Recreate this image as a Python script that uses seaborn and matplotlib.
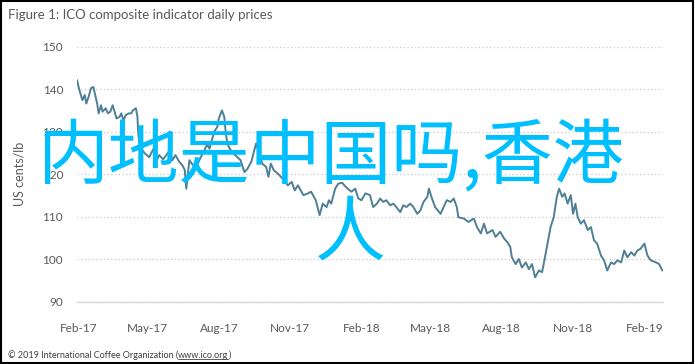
#ICO composite indicator, daily prices Feb 2017 - Feb 2019, with the cyan caption on top

import numpy as np
import pandas as pd
import matplotlib
matplotlib.use('Agg')
import matplotlib.pyplot as plt
import matplotlib.dates as mdates
from matplotlib.patches import Rectangle
from matplotlib.lines import Line2D
import seaborn as sns

#values (US cents/lb)
dates = ['2017-01-30', '2017-02-02', '2017-02-06', '2017-02-09', '2017-02-11', '2017-02-14',
         '2017-02-17', '2017-02-20', '2017-02-22', '2017-02-25', '2017-02-27', '2017-03-02',
         '2017-03-04', '2017-03-08', '2017-03-11', '2017-03-14', '2017-03-17', '2017-03-19',
         '2017-03-22', '2017-03-26', '2017-03-28', '2017-03-31', '2017-04-03', '2017-04-07',
         '2017-04-10', '2017-04-12', '2017-04-16', '2017-04-18', '2017-04-19', '2017-04-21',
         '2017-04-27', '2017-05-03', '2017-05-10', '2017-05-13', '2017-05-16', '2017-05-21',
         '2017-05-27', '2017-05-29', '2017-06-02', '2017-06-06', '2017-06-11', '2017-06-15',
         '2017-06-18', '2017-06-20', '2017-06-24', '2017-06-27', '2017-07-03', '2017-07-06',
         '2017-07-11', '2017-07-17', '2017-07-20', '2017-07-26', '2017-07-30', '2017-08-01',
         '2017-08-05', '2017-08-08', '2017-08-10', '2017-08-12', '2017-08-15', '2017-08-22',
         '2017-08-29', '2017-09-03', '2017-09-07', '2017-09-12', '2017-09-18', '2017-09-22',
         '2017-09-26', '2017-10-01', '2017-10-04', '2017-10-07', '2017-10-11', '2017-10-17',
         '2017-10-22', '2017-10-29', '2017-11-03', '2017-11-07', '2017-11-11', '2017-11-18',
         '2017-11-24', '2017-11-28', '2017-12-04', '2017-12-09', '2017-12-13', '2017-12-18',
         '2017-12-21', '2017-12-24', '2017-12-29', '2018-01-02', '2018-01-07', '2018-01-12',
         '2018-01-19', '2018-01-24', '2018-01-28', '2018-02-01', '2018-02-06', '2018-02-12',
         '2018-02-16', '2018-02-21', '2018-02-25', '2018-03-01', '2018-03-05', '2018-03-10',
         '2018-03-14', '2018-03-18', '2018-03-23', '2018-03-27', '2018-03-31', '2018-04-05',
         '2018-04-09', '2018-04-14', '2018-04-18', '2018-04-22', '2018-04-27', '2018-04-29',
         '2018-05-03', '2018-05-07', '2018-05-14', '2018-05-18', '2018-05-22', '2018-05-27',
         '2018-05-31', '2018-06-04', '2018-06-06', '2018-06-13', '2018-06-19', '2018-06-26',
         '2018-06-30', '2018-07-05', '2018-07-09', '2018-07-13', '2018-07-20', '2018-07-24',
         '2018-07-30', '2018-08-04', '2018-08-08', '2018-08-12', '2018-08-14', '2018-08-19',
         '2018-08-23', '2018-08-27', '2018-09-01', '2018-09-05', '2018-09-09', '2018-09-13',
         '2018-09-18', '2018-09-22', '2018-09-25', '2018-09-29', '2018-10-03', '2018-10-07',
         '2018-10-11', '2018-10-14', '2018-10-18', '2018-10-21', '2018-10-25', '2018-10-29',
         '2018-11-01', '2018-11-04', '2018-11-07', '2018-11-11', '2018-11-15', '2018-11-20',
         '2018-11-24', '2018-11-28', '2018-12-02', '2018-12-07', '2018-12-11', '2018-12-15',
         '2018-12-20', '2018-12-24', '2018-12-28', '2019-01-02', '2019-01-06', '2019-01-10',
         '2019-01-15', '2019-01-19', '2019-01-23', '2019-01-27', '2019-02-01', '2019-02-05',
         '2019-02-09', '2019-02-16', '2019-02-20', '2019-02-24']
prices = [142.1, 139.8, 137.4, 138.6, 136.6, 138.2,
          140.2, 140.5, 139.0, 136.6, 134.3, 136.2,
          134.7, 135.5, 134.3, 134.7, 136.2, 135.0,
          133.1, 133.5, 134.3, 132.7, 133.9, 134.3,
          134.3, 135.0, 135.5, 133.5, 129.6, 126.4,
          125.0, 124.0, 126.4, 123.3, 124.5, 123.5,
          124.9, 125.6, 123.3, 124.5, 122.9, 122.1,
          121.0, 116.6, 123.3, 122.5, 121.5, 123.0,
          124.8, 127.0, 126.0, 130.0, 131.1, 133.1,
          135.0, 133.5, 129.6, 127.2, 126.0, 124.5,
          123.3, 120.5, 121.3, 123.0, 127.2, 124.9,
          122.5, 121.7, 119.4, 122.5, 120.9, 120.0,
          119.0, 117.4, 118.2, 116.2, 117.4, 115.1,
          115.5, 115.9, 113.9, 110.4, 113.1, 112.3,
          113.9, 113.1, 116.6, 117.8, 118.0, 117.0,
          115.9, 116.6, 114.3, 113.9, 115.5, 115.1,
          112.3, 113.1, 114.3, 113.5, 113.9, 112.7,
          113.1, 112.3, 111.1, 112.7, 112.3, 113.1,
          112.3, 110.7, 111.5, 113.5, 114.7, 116.6,
          114.3, 112.3, 110.7, 112.3, 113.9, 113.5,
          114.3, 112.3, 109.9, 109.6, 108.8, 109.6,
          107.6, 106.1, 108.4, 106.1, 106.9, 105.3,
          106.5, 104.9, 104.1, 102.9, 100.5, 98.9,
          100.1, 98.1, 99.3, 97.7, 98.9, 95.8,
          97.4, 97.0, 99.8, 103.7, 107.6, 109.9,
          114.7, 116.6, 114.7, 115.5, 113.1, 115.1,
          110.7, 113.1, 109.9, 108.4, 109.2, 106.9,
          107.6, 104.5, 103.7, 100.9, 99.8, 97.4,
          99.3, 98.9, 99.8, 99.3, 102.1, 100.5,
          101.7, 100.9, 102.1, 102.5, 103.7, 100.9,
          99.8, 99.3, 98.9, 97.4]

tick_dates = ['2017-02-01', '2017-05-01', '2017-08-01', '2017-11-01', '2018-02-01',
              '2018-05-01', '2018-08-01', '2018-11-01', '2019-02-01']
y_ticks = [90, 100, 110, 120, 130, 140, 150]

title = 'Figure 1: ICO composite indicator daily prices'
y_label = 'US cents/lb'
footer_start = '\u00a9 2019 International Coffee Organization ('
footer_link = 'www.ico.org'
footer_end = ')'
overlay_line1 = '内地是中国吗,香港'
overlay_line2 = '人'

df = pd.DataFrame({'date': pd.to_datetime(dates), 'price': prices})

sns.set_style('white')
plt.rcParams['font.family'] = ['Lato', 'DejaVu Sans']

grey = '#595959'
fig = plt.figure(figsize=(6.95, 3.64), dpi=100)
ax = fig.add_axes([77 / 695, 1 - 302 / 364, (663 - 77) / 695, (302 - 46.5) / 364])

sns.lineplot(data=df, x='date', y='price', ax=ax, color='#4f7f94', linewidth=1.4)

ax.set_ylim(90, 150)
ax.set_yticks(y_ticks)
ax.set_xlim(pd.Timestamp('2017-01-30'), pd.Timestamp('2019-02-25'))
ax.set_xticks(pd.to_datetime(tick_dates))
ax.xaxis.set_major_formatter(mdates.DateFormatter('%b-%y'))

ax.set_xlabel('')
ax.set_ylabel(y_label, fontsize=9, color=grey, labelpad=12)
ax.tick_params(axis='both', length=0, labelsize=8.5, labelcolor=grey)
ax.tick_params(axis='x', pad=15)
ax.tick_params(axis='y', pad=10)

#dotted grid, solid light axis at the bottom
ax.grid(axis='y', color='#c8c8c8', linestyle=(0, (1, 2)), linewidth=0.9)
ax.grid(axis='x', visible=False)
for side in ['top', 'right', 'left']:
    ax.spines[side].set_visible(False)
ax.spines['bottom'].set_color('#d9d9d9')
ax.spines['bottom'].set_linewidth(1)

fig.text(8 / 695, 1 - 15 / 364, title, fontsize=9.5, color=grey, va='center', ha='left')

#footer with the underlined link
W, H = fig.get_size_inches() * fig.dpi
fy = 1 - 355 / 364
t1 = fig.text(8 / W, fy, footer_start, fontsize=6.5, color='#404040', va='center', ha='left')
fig.canvas.draw()
bb1 = t1.get_window_extent()
t2 = fig.text(bb1.x1 / W, fy, footer_link, fontsize=6.5, color='#404040', va='center', ha='left')
fig.canvas.draw()
bb2 = t2.get_window_extent()
fig.text(bb2.x1 / W, fy, footer_end, fontsize=6.5, color='#404040', va='center', ha='left')
fig.add_artist(Line2D([bb2.x0 / W, bb2.x1 / W], [(bb2.y0 + 0.5) / H] * 2,
                      transform=fig.transFigure, color='#404040', linewidth=0.6))

#big cyan caption over the chart
cjk = ['Noto Sans CJK SC', 'DejaVu Sans']
fig.text(331 / 695, 1 - 157 / 364, overlay_line1, fontsize=51, color='#00bfff',
         family=cjk, ha='center', va='center')
fig.text(350 / 695, 1 - 234 / 364, overlay_line2, fontsize=51, color='#00bfff',
         family=cjk, ha='center', va='center')

#black frame round the whole picture
fig.add_artist(Rectangle((0.001, 0.002), 0.996, 0.995, transform=fig.transFigure,
                         fill=False, edgecolor='black', linewidth=1.5))

plt.savefig('out.png', dpi=100)
